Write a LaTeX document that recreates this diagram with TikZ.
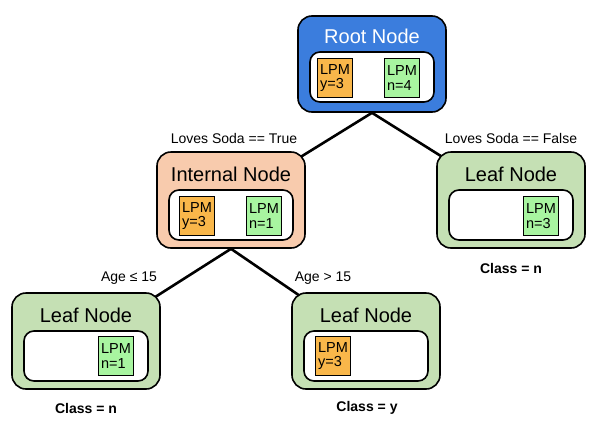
\documentclass[tikz,border=0pt]{standalone}
\usepackage{fontspec}
\setmainfont{Liberation Sans}
\usetikzlibrary{backgrounds}
\definecolor{rootblue}{HTML}{3B7DDD}
\definecolor{intpeach}{HTML}{F8CBAD}
\definecolor{leafgreen}{HTML}{C5E0B4}
\definecolor{lpmorange}{HTML}{F9B74A}
\definecolor{lpmgreen}{HTML}{A8F5A0}
\begin{document}
\begin{tikzpicture}[x=1pt,y=-1pt,line width=1.6pt,
  box/.style={draw,rounded corners=14pt,minimum width=148pt,minimum height=96pt},
  inner/.style={draw,fill=white,rounded corners=10pt,minimum width=124pt,minimum height=50pt},
  title/.style={font=\fontsize{20}{22}\selectfont},
  lpm/.style={draw,line width=0.9pt,minimum width=35pt,minimum height=39pt,inner sep=1pt,align=left,font=\fontsize{14.5}{14.5}\selectfont},
  lbl/.style={font=\fontsize{14}{16}\selectfont},
  cls/.style={font=\bfseries\fontsize{14}{16}\selectfont},
  edge/.style={line width=2.6pt}]
\useasboundingbox (0,0) rectangle (600,421);

\node[box,fill=rootblue] (root) at (372,64) {};
\node[title,text=white] (roott) at (372,36) {Root Node};
\node[inner] (rooti) at (372,77) {};
\node[lpm,fill=lpmorange] (rooty) at (335,78) {LPM\\y=3};
\node[lpm,fill=lpmgreen] (rootn) at (402,78) {LPM\\n=4};

\node[box,fill=intpeach] (int) at (231,200) {};
\node[title] (intt) at (231,174) {Internal Node};
\node[inner] (inti) at (231,215) {};
\node[lpm,fill=lpmorange] (inty) at (197,216) {LPM\\y=3};
\node[lpm,fill=lpmgreen] (intn) at (264,216) {LPM\\n=1};

\node[box,fill=leafgreen] (leafr) at (511,200) {};
\node[title] (leafrt) at (511,174) {Leaf Node};
\node[inner] (leafri) at (511,215) {};
\node[lpm,fill=lpmgreen] (leafrn) at (541,216) {LPM\\n=3};
\node[cls] (clsr) at (511,268) {Class = n};

\node[box,fill=leafgreen] (leafl) at (86,341) {};
\node[title] (leaflt) at (86,315) {Leaf Node};
\node[inner] (leafli) at (86,356) {};
\node[lpm,fill=lpmgreen] (leafln) at (116,356) {LPM\\n=1};
\node[cls] (clsl) at (86,408) {Class = n};

\node[box,fill=leafgreen] (leafm) at (366,341) {};
\node[title] (leafmt) at (366,315) {Leaf Node};
\node[inner] (leafmi) at (366,356) {};
\node[lpm,fill=lpmorange] (leafmy) at (333,356) {LPM\\y=3};
\node[cls] (clsm) at (367,408) {Class = y};

\node[lbl] (ltrue) at (234,138) {Loves Soda == True};
\node[lbl] (lfalse) at (511,138) {Loves Soda == False};
\node[lbl] (lle) at (129,278) {Age ≤ 15};
\node[lbl] (lgt) at (323,278) {Age > 15};

\begin{scope}[on background layer]
\draw[edge] (root.south) -- (int.center);
\draw[edge] (root.south) -- (leafr.center);
\draw[edge] (int.south) -- (leafl.center);
\draw[edge] (int.south) -- (leafm.center);
\end{scope}
\end{tikzpicture}
\end{document}
